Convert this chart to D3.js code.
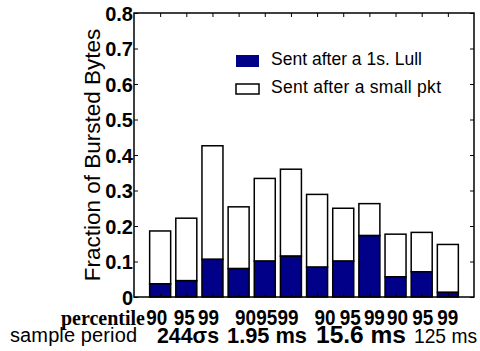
<!DOCTYPE html>
<html>
<head>
<meta charset="utf-8">
<script src="https://cdn.jsdelivr.net/npm/d3@7"></script>
<style>
  body { margin: 0; background: #fff; }
  svg { font-family: "Liberation Sans", Arial, sans-serif; }
</style>
</head>
<body>
<svg id="chart" width="480" height="351"></svg>
<script>
// Data
const percentiles = ["90", "95", "99", "90", "95", "99", "90", "95", "99", "90", "95", "99"];
const periods = ["244\u03c3s", "1.95 ms", "15.6 ms", "125 ms"];
const afterLull = [0.037, 0.046, 0.106, 0.080, 0.101, 0.115, 0.084, 0.101, 0.173, 0.057, 0.071, 0.013];
const afterSmall = [0.149, 0.176, 0.320, 0.174, 0.233, 0.245, 0.205, 0.149, 0.090, 0.120, 0.111, 0.135];
const yTicks = [0, 0.1, 0.2, 0.3, 0.4, 0.5, 0.6, 0.7, 0.8];
const legendLabels = ["Sent after a 1s. Lull", "Sent after a small pkt"];

const blue = "#000088";

const svg = d3.select("#chart");
const mLeft = 134, mRight = 474, mTop = 13, mBottom = 297;

const x = d3.scaleLinear().domain([0, 13]).range([mLeft, mRight]);
const y = d3.scaleLinear().domain([0, 0.8]).range([mBottom, mTop]);
const barW = 21;

const bars = afterLull.map((v, i) => ({ i: i + 1, lull: v, small: afterSmall[i] }));

// stacked bars
const g = svg.append("g");
g.selectAll("rect.small")
  .data(bars)
  .join("rect")
    .attr("class", "small")
    .attr("x", d => x(d.i) - barW / 2)
    .attr("width", barW)
    .attr("y", d => y(d.lull + d.small))
    .attr("height", d => y(d.lull) - y(d.lull + d.small))
    .attr("fill", "#fff")
    .attr("stroke", "#000")
    .attr("stroke-width", 1.5);

g.selectAll("rect.lull")
  .data(bars)
  .join("rect")
    .attr("class", "lull")
    .attr("x", d => x(d.i) - barW / 2)
    .attr("width", barW)
    .attr("y", d => y(d.lull))
    .attr("height", d => y(0) - y(d.lull))
    .attr("fill", blue)
    .attr("stroke", "#000")
    .attr("stroke-width", 1.5);

// frame with inward ticks
const tickLen = 4;
const axisStyle = sel => sel.select(".domain").remove();

svg.append("g").attr("transform", `translate(0,${mBottom})`)
  .call(d3.axisBottom(x).tickValues(d3.range(1, 13)).tickSize(-tickLen).tickFormat(""))
  .call(axisStyle);
svg.append("g").attr("transform", `translate(0,${mTop})`)
  .call(d3.axisTop(x).tickValues(d3.range(1, 13)).tickSize(-tickLen).tickFormat(""))
  .call(axisStyle);
svg.append("g").attr("transform", `translate(${mLeft},0)`)
  .call(d3.axisLeft(y).tickValues(yTicks).tickSize(-tickLen).tickPadding(3).tickFormat(d => d === 0 ? "0" : d3.format(".1f")(d)))
  .call(axisStyle)
  .call(a => a.selectAll("text")
    .style("font-family", "Liberation Sans, Arial, sans-serif")
    .attr("font-size", 20).attr("font-weight", "bold").attr("fill", "#000")
    .attr("dy", "0.36em").attr("x", -1));
svg.append("g").attr("transform", `translate(${mRight},0)`)
  .call(d3.axisRight(y).tickValues(yTicks).tickSize(-tickLen).tickFormat(""))
  .call(axisStyle);
svg.selectAll(".tick line").attr("stroke", "#000").attr("stroke-width", 1);

svg.append("rect")
  .attr("x", mLeft).attr("y", mTop)
  .attr("width", mRight - mLeft).attr("height", mBottom - mTop)
  .attr("fill", "none").attr("stroke", "#000").attr("stroke-width", 1.5);

// y axis title
svg.append("text")
  .attr("transform", `translate(100,155) rotate(-90)`)
  .attr("text-anchor", "middle")
  .attr("font-size", 22.5)
  .text("Fraction of Bursted Bytes");

// legend
const legend = svg.append("g");
legendLabels.forEach((lab, k) => {
  const ly = 55 + k * 28;
  legend.append("rect")
    .attr("x", 236).attr("y", k === 0 ? ly : ly + 1)
    .attr("width", 23).attr("height", k === 0 ? 12 : 10)
    .attr("fill", k === 0 ? blue : "#fff")
    .attr("stroke", k === 0 ? "none" : "#000")
    .attr("stroke-width", 1.5);
  legend.append("text")
    .attr("x", 271).attr("y", ly + 9.5)
    .attr("font-size", 17.5)
    .attr("textLength", k === 0 ? 151 : 170)
    .text(lab);
});

// percentile row
svg.append("text")
  .attr("x", 145).attr("y", 325)
  .attr("text-anchor", "end")
  .style("font-family", "Liberation Serif, Times New Roman, serif")
  .attr("font-weight", "bold")
  .attr("font-size", 20)
  .text("percentile");
const pctShift = [-3.5, -2, -4, 7, 2, -3, 8, 7, 5, 2, 1, 0];
const pctW = 21;
svg.append("g").selectAll("text")
  .data(percentiles)
  .join("text")
    .attr("x", (d, i) => x(i + 1) + pctShift[i] - pctW / 2)
    .attr("y", 325)
    .attr("font-weight", "bold")
    .attr("font-size", 21.5)
    .attr("textLength", pctW)
    .attr("lengthAdjust", "spacingAndGlyphs")
    .text(d => d);

// sample period row
svg.append("text")
  .attr("x", 10).attr("y", 342)
  .attr("font-size", 20)
  .attr("textLength", 127)
  .text("sample period");
const periodStart = [157, 227, 316, 414];
const periodWidth = [62, 80, 90, 63];
svg.append("g").selectAll("text")
  .data(periods)
  .join("text")
    .attr("x", (d, i) => periodStart[i])
    .attr("y", 343)
    .attr("font-weight", (d, i) => i === 3 ? "normal" : "bold")
    .attr("font-size", (d, i) => i === 3 ? 21 : (i === 2 ? 23.5 : 22.5))
    .attr("textLength", (d, i) => periodWidth[i])
    .attr("lengthAdjust", "spacingAndGlyphs")
    .text(d => d);
</script>
</body>
</html>
